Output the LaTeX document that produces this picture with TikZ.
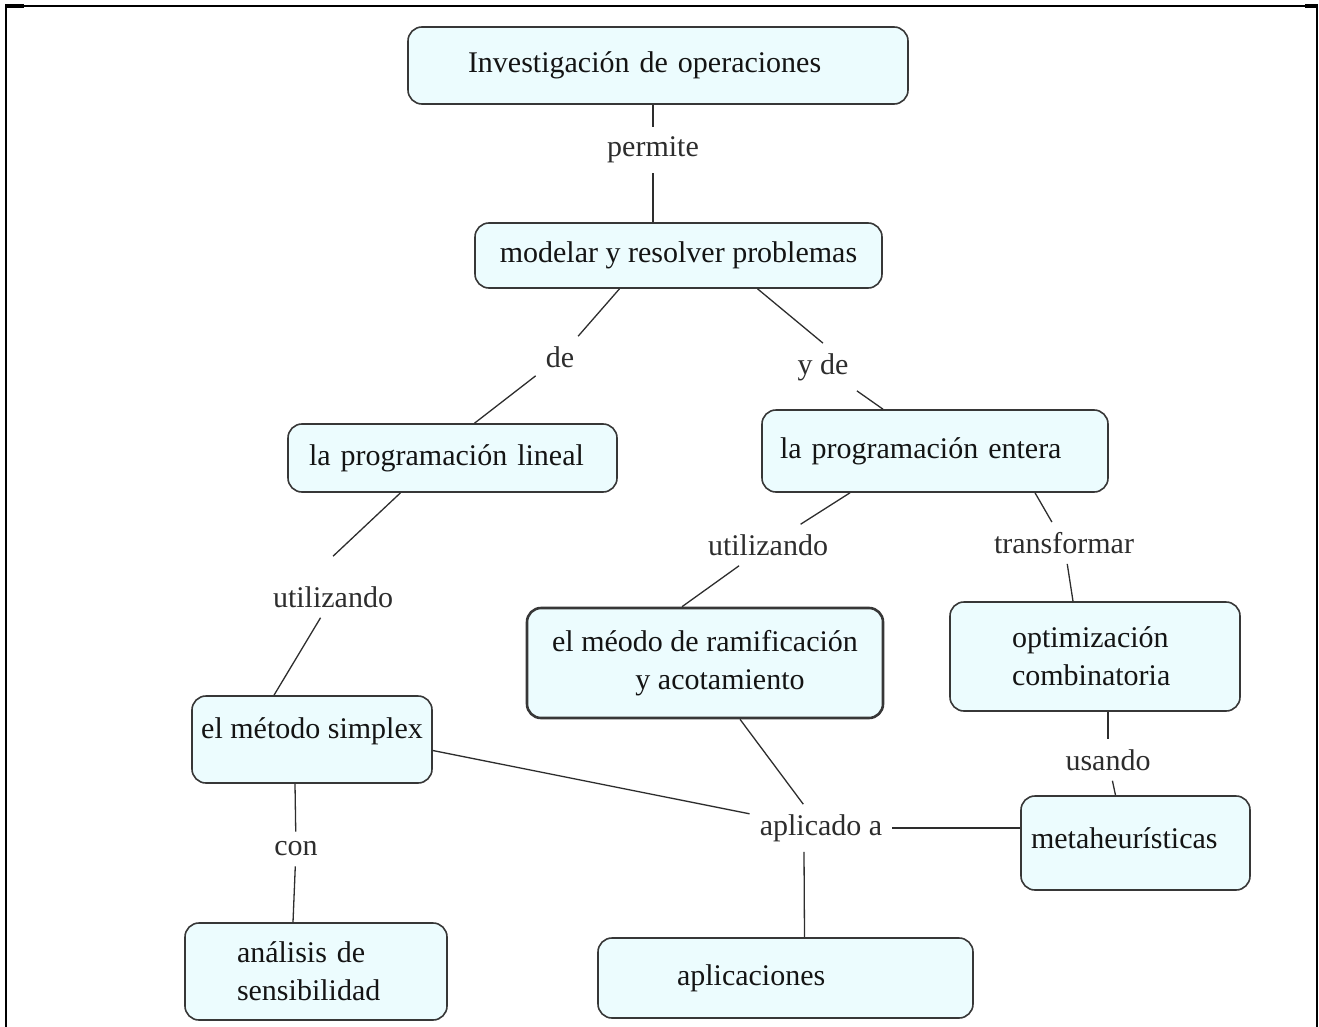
\documentclass[tikz,border=0pt]{standalone}
\usepackage{fontspec}
\setmainfont{Liberation Serif}
\usetikzlibrary{positioning}

\definecolor{boxfill}{RGB}{236,252,254}
\definecolor{boxline}{RGB}{55,55,55}
\definecolor{linkline}{RGB}{45,45,45}
\definecolor{linktext}{RGB}{45,45,45}
\definecolor{concepttext}{RGB}{20,20,20}

\tikzset{
  concept/.style={rectangle, rounded corners=14pt, draw=boxline, fill=boxfill, line width=1.6pt,
    text=concepttext, font=\fontsize{30}{38}\selectfont, align=center, inner sep=0pt},
  linkword/.style={text=linktext, font=\fontsize{30}{38}\selectfont, inner sep=10pt},
  link/.style={draw=linkline, line width=1.3pt},
  frame/.style={line width=2pt}
}

\begin{document}
\begin{tikzpicture}[x=1pt, y=-1pt]
\useasboundingbox (0,0) rectangle (1319,1027);

% Frame
\draw[frame] (6,1027) -- (6,6) -- (1317,6) -- (1317,1027);
\draw[line width=3.5pt] (5,6) -- (24,6);
\draw[line width=3.5pt] (1305,6) -- (1318,6);

% Concepts
\node (inv) [concept, minimum width=500pt, minimum height=77pt, inner xsep=60pt, text width=380pt, align=left] at (658,65.5) {Investigación de operaciones};
\node (model) [concept, minimum width=407pt, minimum height=65pt] at (678.5,255.5) {modelar y resolver problemas};
\node (lineal) [concept, minimum width=329pt, minimum height=68pt, inner xsep=21pt, text width=287pt, align=left] at (452.5,458) {la programación lineal};
\node (entera) [concept, minimum width=346pt, minimum height=82pt, inner xsep=18pt, text width=310pt, align=left] at (935,451) {la programación entera};
\node (ramif) [concept, line width=2.6pt, minimum width=356pt, minimum height=110pt] at (705,663) {el méodo de ramificación\\ \hspace*{30pt}y acotamiento};
\node (opt) [concept, minimum width=290pt, minimum height=109pt, inner xsep=62pt, text width=166pt, align=left] at (1095,656.5) {optimización\\combinatoria};
\node (simplex) [concept, minimum width=240pt, minimum height=87pt, text height=20.5pt, text depth=23.5pt] at (312,739.5) {el método simplex};
\node (meta) [concept, minimum width=229pt, minimum height=94pt, inner xsep=10pt, text width=209pt, align=left, text depth=10.5pt] at (1135.5,843) {metaheurísticas};
\node (analisis) [concept, minimum width=262pt, minimum height=97pt, inner xsep=52pt, text width=158pt, align=left] at (316,971.5) {análisis de\\sensibilidad};
\node (apps) [concept, minimum width=375pt, minimum height=80pt, inner xsep=79pt, text width=217pt, align=left] at (785.5,978) {aplicaciones};

% Linking words
\node (permite) [linkword] at (653,150) {permite};
\node (de) [linkword] at (560,357) {de};
\node (yde) [linkword] at (823,367) {y de};
\node (utilL) [linkword] at (333,597) {utilizando};
\node (utilR) [linkword] at (768,545) {utilizando};
\node (transf) [linkword] at (1064,543) {transformar};
\node (usando) [linkword] at (1108,760) {usando};
\node (con) [linkword] at (296,849) {con};
\node (aplic) [linkword] at (821,828) {aplicado a};

% Links
\draw[link] (inv.south -| permite) -- (permite);
\draw[link] (permite) -- (model.north -| permite);
\draw[link] ([xshift=-59pt]model.south) -- (de);
\draw[link] (de) -- ([xshift=22pt]lineal.north);
\draw[link] ([xshift=79pt]model.south) -- (yde.north);
\draw[link] (yde) -- ([xshift=-52pt]entera.north);
\draw[link] ([xshift=-52pt]lineal.south) -- ([yshift=20pt]utilL.north);
\draw[link] (utilL) -- ([xshift=-38pt]simplex.north);
\draw[link] ([xshift=-85pt]entera.south) -- (utilR);
\draw[link] (utilR) -- ([xshift=-23pt]ramif.north);
\draw[link] ([xshift=100pt]entera.south) -- (transf);
\draw[link] (transf) -- ([xshift=-22pt]opt.north);
\draw[link] ([xshift=13pt]opt.south) -- (usando);
\draw[link] (usando) -- ([xshift=-20pt]meta.north);
\draw[link] ([xshift=-17pt]simplex.south) -- (con);
\draw[link] (con) -- ([xshift=-23pt]analisis.north);
\draw[link] ([yshift=-11pt]simplex.east) -- (aplic);
\draw[link] ([xshift=35pt]ramif.south) -- (aplic);
\draw[link] (aplic) -- (meta.west |- aplic);
\draw[link] ([xshift=-17pt]aplic.south) -- ([xshift=19pt]apps.north);

\end{tikzpicture}
\end{document}
